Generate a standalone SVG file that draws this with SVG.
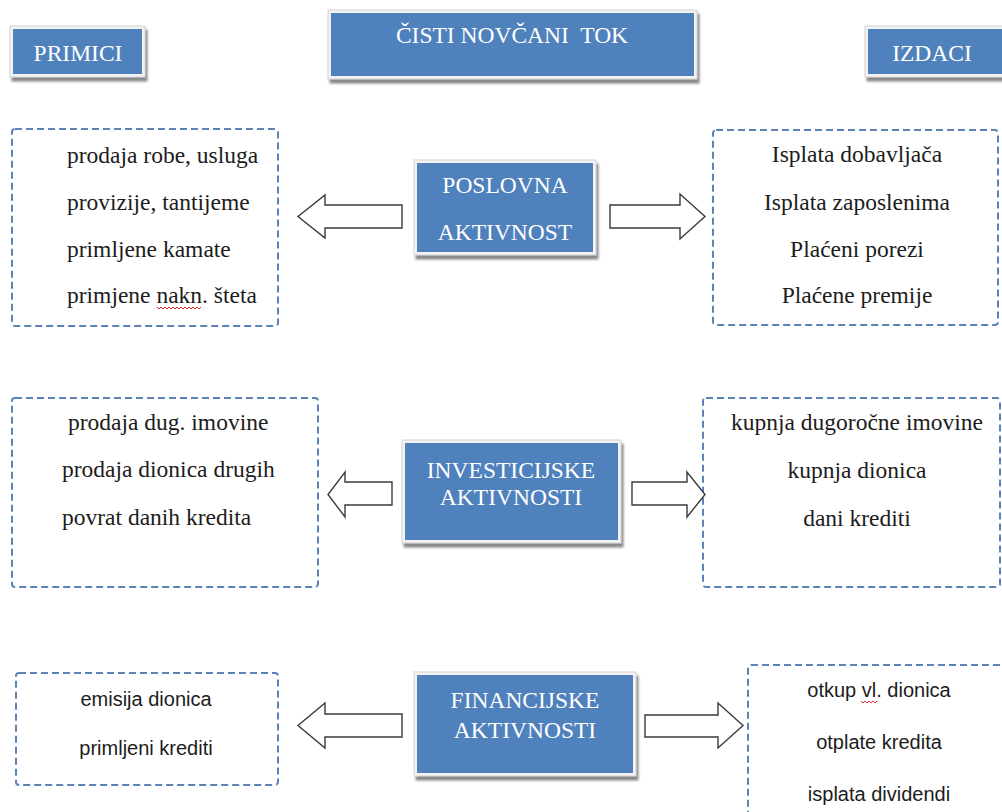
<svg xmlns="http://www.w3.org/2000/svg" width="1002" height="812" viewBox="0 0 1002 812">
<defs>
<filter id="sh" x="-10%" y="-10%" width="130%" height="140%">
<feDropShadow dx="2" dy="4" stdDeviation="1.2" flood-color="#6b6b6b" flood-opacity="0.8"/>
</filter>
<style>
.frame{fill:#f3f3f3;stroke:#d4d4d4;stroke-width:1;filter:url(#sh)}
.blue{fill:#4F81BD}
.lbl{font-family:"Liberation Serif","Times New Roman",serif;font-size:23.5px;fill:#ffffff;text-anchor:middle}
.dash{fill:none;stroke:#5b83b8;stroke-width:2;stroke-dasharray:7 4}
.ser{font-family:"Liberation Serif","Times New Roman",serif;font-size:23.5px;fill:#1c1c1c}
.sans{font-family:"Liberation Sans",Arial,sans-serif;font-size:20px;fill:#1c1c1c;text-anchor:middle}
.mid{text-anchor:middle}
.arr{fill:#ffffff;stroke:#3a3a3a;stroke-width:1.4;stroke-linejoin:miter}
.sq{fill:none;stroke:#e03030;stroke-width:1}
</style>
</defs>
<rect width="1002" height="812" fill="#ffffff"/>

<g id="primici">
<rect class="frame" x="10" y="26" width="135" height="51"/>
<rect class="blue" x="13" y="29" width="129" height="45"/>
<text class="lbl" x="78" y="61">PRIMICI</text>
</g>
<g id="cisti-novcani-tok">
<rect class="frame" x="328" y="10" width="369" height="69"/>
<rect class="blue" x="331" y="13" width="363" height="63"/>
<text class="lbl" x="512" y="43" xml:space="preserve">ČISTI NOVČANI  TOK</text>
</g>
<g id="izdaci">
<rect class="frame" x="865" y="26" width="140" height="51"/>
<rect class="blue" x="868" y="29" width="136" height="45"/>
<text class="lbl" x="932" y="61">IZDACI</text>
</g>

<g id="poslovna">
<rect class="frame" x="414" y="160" width="182" height="95"/>
<rect class="blue" x="417" y="163" width="176" height="89"/>
<text class="lbl" x="505" y="193">POSLOVNA</text>
<text class="lbl" x="505" y="240">AKTIVNOST</text>
</g>
<g id="investicijske">
<rect class="frame" x="402" y="440" width="219" height="103"/>
<rect class="blue" x="405" y="443" width="213" height="97"/>
<text class="lbl" x="511" y="478">INVESTICIJSKE</text>
<text class="lbl" x="511" y="505">AKTIVNOSTI</text>
</g>
<g id="financijske">
<rect class="frame" x="414" y="672" width="222" height="104"/>
<rect class="blue" x="417" y="675" width="216" height="98"/>
<text class="lbl" x="525" y="708">FINANCIJSKE</text>
<text class="lbl" x="525" y="738">AKTIVNOSTI</text>
</g>

<g id="primici-poslovna">
<rect class="dash" x="12" y="129" width="266" height="197" rx="3"/>
<text class="ser" x="67" y="163">prodaja robe, usluga</text>
<text class="ser" x="67" y="210">provizije, tantijeme</text>
<text class="ser" x="67" y="257">primljene kamate</text>
<text class="ser" x="67" y="303">primjene nakn. šteta</text>
<path class="sq" d="M157 307 l2 2 l2 -2 l2 2 l2 -2 l2 2 l2 -2 l2 2 l2 -2 l2 2 l2 -2 l2 2 l2 -2 l2 2 l2 -2 l2 2 l2 -2 l2 2 l2 -2 l2 2 l2 -2 l2 2 l2 -2"/>
</g>
<g id="izdaci-poslovna">
<rect class="dash" x="713" y="130" width="285" height="195" rx="3"/>
<text class="ser mid" x="857" y="162">Isplata dobavljača</text>
<text class="ser mid" x="857" y="210">Isplata zaposlenima</text>
<text class="ser mid" x="857" y="257">Plaćeni porezi</text>
<text class="ser mid" x="857" y="303">Plaćene premije</text>
</g>

<g id="primici-investicijske">
<rect class="dash" x="12" y="398" width="306" height="189" rx="3"/>
<text class="ser" x="68" y="430">prodaja dug. imovine</text>
<text class="ser" x="62" y="477">prodaja dionica drugih</text>
<text class="ser" x="62" y="525">povrat danih kredita</text>
</g>
<g id="izdaci-investicijske">
<rect class="dash" x="703" y="398" width="297" height="189" rx="3"/>
<text class="ser mid" x="857" y="430">kupnja dugoročne imovine</text>
<text class="ser mid" x="857" y="478">kupnja dionica</text>
<text class="ser mid" x="857" y="526">dani krediti</text>
</g>

<g id="primici-financijske">
<rect class="dash" x="16" y="673" width="262" height="112" rx="3"/>
<text class="sans" x="146" y="706">emisija dionica</text>
<text class="sans" x="146" y="755">primljeni krediti</text>
</g>
<g id="izdaci-financijske">
<rect class="dash" x="748" y="665" width="262" height="170" rx="3"/>
<text class="sans" x="879" y="697">otkup vl. dionica</text>
<text class="sans" x="879" y="749">otplate kredita</text>
<text class="sans" x="879" y="801">isplata dividendi</text>
<path class="sq" d="M861 701 l2 2 l2 -2 l2 2 l2 -2 l2 2 l2 -2 l2 2 l2 -2"/>
</g>

<g id="connectors">
<path class="arr" d="M402 205 L325 205 L325 195 L298 216.5 L325 238 L325 228 L402 228 Z"/>
<path class="arr" d="M610 205 L680 205 L680 194 L705 216.5 L680 239 L680 228 L610 228 Z"/>
<path class="arr" d="M392 482 L345 482 L345 472 L328 494.5 L345 517 L345 505 L392 505 Z"/>
<path class="arr" d="M632 482 L687 482 L687 472 L705 494.5 L687 517 L687 505 L632 505 Z"/>
<path class="arr" d="M402 714 L325 714 L325 703 L298 725.5 L325 748 L325 737 L402 737 Z"/>
<path class="arr" d="M645 715 L718 715 L718 703 L743 725.5 L718 748 L718 737 L645 737 Z"/>
</g>
</svg>
